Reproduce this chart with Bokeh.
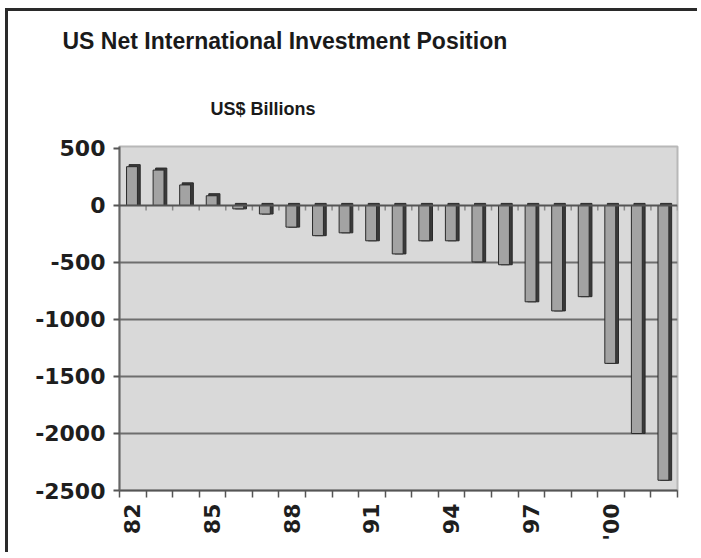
import numpy as np
from bokeh.plotting import figure
from bokeh.models import Range1d, FixedTicker, Span, Title
from bokeh.embed import file_html
from bokeh.resources import INLINE

# ---- data ----
years = ["82", "83", "84", "85", "86", "87", "88", "89", "90", "91", "92",
         "93", "94", "95", "96", "97", "98", "99", "'00", "01", "02"]
niip = [340, 310, 180, 85, -30, -75, -190, -265, -240, -310, -425,
        -310, -310, -495, -520, -845, -925, -800, -1385, -2000, -2410]
labelled_years = ["82", "85", "88", "91", "94", "97", "'00"]
y_ticks = [500, 0, -500, -1000, -1500, -2000, -2500]
grid_levels = [-500, -1000, -1500, -2000]

title_text = "US Net International Investment Position"
unit_text = "US$ Billions"

# ---- derived ----
n = len(years)
idx = np.arange(n)
centers = idx + 0.5
vals = np.array(niip, dtype=float)
bounds = list(range(n + 1))

p = figure(width=692, height=544, output_backend="svg", toolbar_location=None,
           x_range=Range1d(0, n), y_range=Range1d(-2500, 517),
           min_border_left=111, min_border_right=23,
           min_border_top=134, min_border_bottom=65,
           title=title_text)
p.styles = {"margin-left": "5px", "margin-top": "8px",
            "border-top": "3px solid #2a2a2a", "border-left": "3px solid #2a2a2a"}

p.title.align = "left"
p.title.offset = -57
p.title.standoff = 29
p.title.text_font = "Liberation Sans"
p.title.text_font_style = "bold"
p.title.text_font_size = "23px"
p.title.text_color = "#1a1a1a"

p.add_layout(Title(text=unit_text, align="left", offset=91, standoff=56,
                   text_font="Liberation Sans", text_font_style="bold",
                   text_font_size="18px", text_color="#1a1a1a"), "above")

p.background_fill_color = "#d9d9d9"
p.border_fill_color = "white"
p.outline_line_color = "#b8b8b8"
p.outline_line_width = 2

# grid
p.xgrid.visible = False
p.ygrid.ticker = FixedTicker(ticks=grid_levels)
p.ygrid.grid_line_color = "#6e6e6e"
p.ygrid.grid_line_width = 2

# zero line with hanging ticks
p.add_layout(Span(location=0, dimension="width", line_color="#555555", line_width=2))
p.segment(x0=bounds[1:], y0=[0] * n, x1=bounds[1:], y1=[-45] * n,
          line_color="#8a8a8a", line_width=1.5)

# bars: dark side (3D depth) then front face
dark_top = np.maximum(vals, 0) + 18
dark_bot = np.minimum(vals, 0)
p.vbar(x=centers + 0.07, width=0.42, top=dark_top, bottom=dark_bot,
       fill_color="#3a3a3a", line_color="#2a2a2a", line_width=1)
p.vbar(x=centers - 0.03, width=0.41, top=vals, bottom=0,
       fill_color="#a3a3a3", line_color="#2a2a2a", line_width=1)

# y axis
ya = p.yaxis[0]
ya.ticker = FixedTicker(ticks=y_ticks)
ya.major_label_overrides = {t: str(t) for t in y_ticks}
ya.major_label_text_font = "DejaVu Sans"
ya.major_label_text_font_style = "bold"
ya.major_label_text_font_size = "22px"
ya.major_label_text_color = "#1e1e1e"
ya.major_label_standoff = 8
ya.axis_line_color = "#666666"
ya.axis_line_width = 2
ya.major_tick_line_color = "#555555"
ya.major_tick_line_width = 2
ya.major_tick_out = 6
ya.major_tick_in = 0
ya.minor_tick_line_color = None

# x axis
label_pos = [float(centers[years.index(y)]) for y in labelled_years]
xa = p.xaxis[0]
xa.ticker = FixedTicker(ticks=label_pos, minor_ticks=bounds)
xa.major_label_overrides = {pos: lab for pos, lab in zip(label_pos, labelled_years)}
xa.major_label_orientation = np.pi / 2
xa.major_label_text_font = "DejaVu Sans"
xa.major_label_text_font_style = "bold"
xa.major_label_text_font_size = "22px"
xa.major_label_text_color = "#1e1e1e"
xa.major_label_standoff = 6
xa.axis_line_color = "#555555"
xa.axis_line_width = 2
xa.major_tick_line_color = None
xa.major_tick_out = 7
xa.major_tick_in = 0
xa.minor_tick_line_color = "#555555"
xa.minor_tick_line_width = 1.5
xa.minor_tick_out = 7
xa.minor_tick_in = 0

open("out.html", "w").write(file_html(p, INLINE))
